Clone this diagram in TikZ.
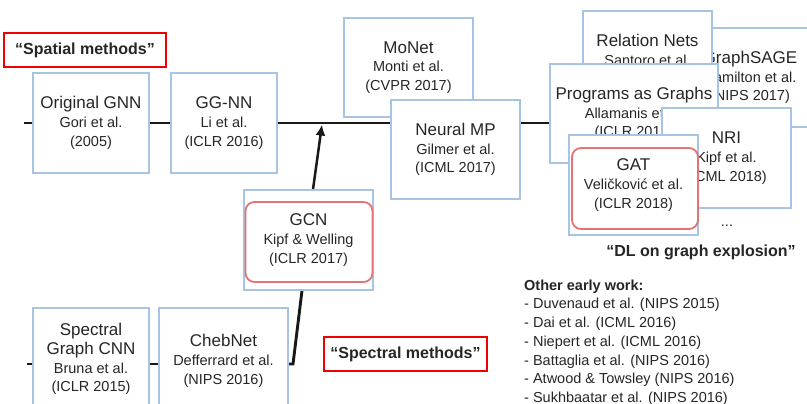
\documentclass[tikz,border=0pt]{standalone}
\usepackage{fontspec}
\setmainfont{Liberation Sans}
\usetikzlibrary{arrows.meta,backgrounds}
\definecolor{boxblue}{HTML}{A8C4E4}
\definecolor{hlred}{HTML}{E57373}
\definecolor{labred}{HTML}{F00000}
\definecolor{txt}{HTML}{262626}
\newcommand\ttlf{\fontsize{17}{19}\selectfont}
\newcommand\subf{\fontsize{14.5}{18.7}\selectfont}
\newcommand\labf{\fontsize{16}{19}\selectfont\bfseries}
\begin{document}
\begin{tikzpicture}[x=1pt,y=-1pt,
  box/.style={draw=boxblue, line width=1.3pt, fill=white, inner sep=0pt, align=center,
    font=\subf, text=txt, minimum width=129pt, minimum height=100pt},
  hl/.style={draw=hlred, line width=1.8pt, rounded corners=9pt, inner sep=0pt},
  lab/.style={draw=labred, line width=2pt, inner sep=0pt, font=\labf, text=txt},
  conn/.style={line width=2.9pt, draw=black!90},
  plain/.style={inner sep=0pt, text=txt},
]
\useasboundingbox (0,0) rectangle (807,404);
\clip (0,0) rectangle (807,404);

% coordinates of free ends
\coordinate (ls) at (24,123);
\coordinate (j) at (322,123);
\coordinate (bs) at (27,364);
\coordinate (bk) at (293,364);

% spatial row
\node[box, minimum width=116pt] (gnn) at (91,123) {{\ttlf Original GNN}\\Gori et al.\\(2005)};
\node[box, minimum width=106pt] (ggnn) at (224,123) {{\ttlf GG-NN}\\Li et al.\\(ICLR 2016)};
\node[box, minimum height=99pt] (monet) at (408.5,67.5) {{\ttlf MoNet}\\Monti et al.\\(CVPR 2017)};
\node[box, minimum height=99pt] (nmp) at (455.5,149.5) {{\ttlf Neural MP}\\Gilmer et al.\\(ICML 2017)};

% explosion cluster
\node[box, minimum width=130pt, minimum height=99pt] (sage) at (750,77.5) {{\ttlf GraphSAGE}\\Hamilton et al.\\(NIPS 2017)};
\node[box, minimum height=102pt] (rel) at (647.5,62) {{\ttlf Relation Nets}\\Santoro et al.\\\strut};
\node[box, minimum width=168pt, minimum height=99pt] (pag) at (634,113.5) {{\ttlf Programs as Graphs}\\Allamanis et al.\\(ICLR 2018)};
\node[box] (nri) at (726.5,158) {{\ttlf NRI}\\Kipf et al.\\(ICML 2018)};
\node[box] (gat) at (633.5,185) {{\ttlf GAT}\\Veličković et al.\\(ICLR 2018)};
\node[hl, minimum width=126pt, minimum height=81pt] (gatr) at (635,188.5) {};
\node[plain, font=\subf] (dots) at (727,226) {...};
\node[plain, font=\labf] (dl) at (701,252) {“DL on graph explosion”};

% GCN
\node[box] (gcn) at (308.5,240) {{\ttlf GCN}\\Kipf \& Welling\\(ICLR 2017)};
\node[hl, minimum width=127pt, minimum height=80pt] (gcnr) at (309,242) {};

% spectral row
\node[box, minimum width=116pt, minimum height=102pt] (sgc) at (91,359) {{\ttlf Spectral}\\{\ttlf Graph CNN}\\Bruna et al.\\(ICLR 2015)};
\node[box, minimum height=106pt] (cheb) at (223.5,361) {{\ttlf ChebNet}\\Defferrard et al.\\(NIPS 2016)};

% labels
\node[lab, minimum width=162pt, minimum height=34pt] (spatial) at (85,50) {“Spatial methods”};
\node[lab, minimum width=163pt, minimum height=34pt] (spectral) at (405.5,354) {“Spectral methods”};

\node[plain, font=\subf, align=left, anchor=north west] (other) at (524,279.5)
  {\textbf{Other early work:}\\- Duvenaud et al. (NIPS 2015)\\- Dai et al. (ICML 2016)\\- Niepert et al. (ICML 2016)\\- Battaglia et al. (NIPS 2016)\\- Atwood \& Towsley (NIPS 2016)\\- Sukhbaatar et al. (NIPS 2016)};

% connectors (behind boxes)
\begin{pgfonlayer}{background}
\fill[white] (0,0) rectangle (807,404);
\draw[conn] (ls) -- (ls -| gnn.west);
\draw[conn] (gnn.east |- ls) -- (ggnn.west |- ls);
\draw[conn] (ggnn.east |- ls) -- (nmp.west |- ls);
\draw[conn] (nmp.east |- ls) -- (pag.west |- ls);
\draw[conn] (bs) -- (bs -| sgc.west);
\draw[conn] (sgc.east |- bs) -- (cheb.west |- bs);
\draw[conn] (cheb.east |- bs) -- (bk) -- ([xshift=-6.5pt]gcn.south);
\draw[line width=2.5pt, draw=black!90, -{Latex[length=11pt,width=10pt]}] ([xshift=4.5pt]gcn.north) -- ([yshift=-1.5pt]j);
\end{pgfonlayer}
\end{tikzpicture}
\end{document}
